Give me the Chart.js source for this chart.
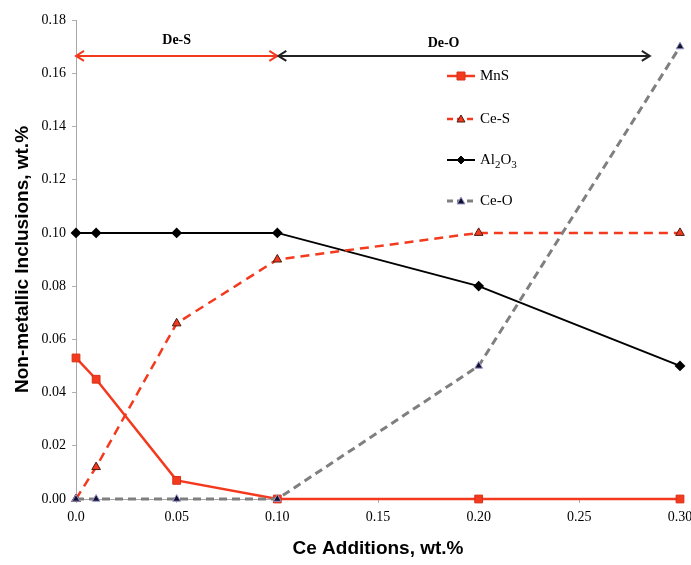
<!DOCTYPE html>
<html>
<head>
<meta charset="utf-8">
<script src="https://cdn.jsdelivr.net/npm/chart.js@4"></script>
<style>
  html, body { margin: 0; padding: 0; background: #fff; }
  #wrap { width: 691px; height: 565px; }
</style>
</head>
<body>
<div id="wrap"><canvas id="inclusionChart" width="691" height="565"></canvas></div>
<script>
// Ce additions (wt.%) on the x axis
const ceAdditions = [0, 0.01, 0.05, 0.10, 0.20, 0.30];
const mnsValues = [0.053, 0.045, 0.007, 0, 0, 0];
const ceSValues = [0, 0.012, 0.066, 0.09, 0.10, 0.10];
const al2o3Values = [0.10, 0.10, 0.10, 0.10, 0.08, 0.05];
const ceOValues = [0, 0, 0, 0, 0.05, 0.17];
const xTickLabels = ['0.0', '0.05', '0.10', '0.15', '0.20', '0.25', '0.30'];

// region arrows at the top of the plot
const deSRange = [0, 0.10];
const deORange = [0.10, 0.285];
const arrowLevel = 0.1665;

const red = '#f43a1e';

function toPoints(vals) {
    return ceAdditions.map((x, i) => ({ x: x, y: vals[i] }));
}

const datasets = [
    {
        label: 'Ce-O', data: toPoints(ceOValues), order: 0,
        borderColor: '#7f7f7f', borderWidth: 3, borderDash: [8, 5],
        pointStyle: 'triangle', pointRadius: 4.5,
        pointBackgroundColor: '#11112e', pointBorderColor: '#9a9ad0', pointBorderWidth: 1
    },
    {
        label: 'MnS', data: toPoints(mnsValues), order: 1,
        borderColor: red, borderWidth: 2.5,
        pointStyle: 'rect', pointRadius: 5.5,
        pointBackgroundColor: red, pointBorderColor: '#d83018', pointBorderWidth: 1
    },
    {
        label: 'Ce-S', data: toPoints(ceSValues), order: 2,
        borderColor: red, borderWidth: 2.5, borderDash: [9, 6],
        pointStyle: 'triangle', pointRadius: 5,
        pointBackgroundColor: red, pointBorderColor: '#4a1a10', pointBorderWidth: 1
    },
    {
        label: 'Al2O3', data: toPoints(al2o3Values), order: 3,
        borderColor: '#000', borderWidth: 2,
        pointStyle: 'rectRot', pointRadius: 4,
        pointBackgroundColor: '#000', pointBorderColor: '#000'
    }
];

// arrows, region labels and a legend with subscripts
const extrasPlugin = {
    id: 'extras',
    afterDatasetsDraw(chart) {
        const ctx = chart.ctx;
        const xs = chart.scales.x, ys = chart.scales.y;
        const yA = ys.getPixelForValue(arrowLevel);

        function arrow(x1, x2, color) {
            ctx.save();
            ctx.strokeStyle = color;
            ctx.lineWidth = 2;
            ctx.beginPath();
            ctx.moveTo(x1, yA); ctx.lineTo(x2, yA);
            ctx.moveTo(x1 + 8, yA - 5); ctx.lineTo(x1, yA); ctx.lineTo(x1 + 8, yA + 5);
            ctx.moveTo(x2 - 8, yA - 5); ctx.lineTo(x2, yA); ctx.lineTo(x2 - 8, yA + 5);
            ctx.stroke();
            ctx.restore();
        }
        const s1 = xs.getPixelForValue(deSRange[0]), s2 = xs.getPixelForValue(deSRange[1]);
        const o1 = xs.getPixelForValue(deORange[0]), o2 = xs.getPixelForValue(deORange[1]);
        arrow(s1, s2, red);
        arrow(o1 + 1, o2, '#222');

        ctx.save();
        ctx.fillStyle = '#000';
        ctx.font = 'bold 14px "Liberation Serif"';
        ctx.textAlign = 'center';
        ctx.textBaseline = 'middle';
        ctx.fillText('De-S', (s1 + s2) / 2, yA - 16);
        ctx.fillText('De-O', (o1 + o2) / 2 - 20, yA - 13);
        ctx.restore();

        // legend
        const lx = 447, rows = [76, 119, 160, 201];
        const order = ['MnS', 'Ce-S', 'Al2O3', 'Ce-O'];
        order.forEach((name, i) => {
            const ds = chart.data.datasets.find(d => d.label === name);
            const y = rows[i];
            ctx.save();
            ctx.strokeStyle = ds.borderColor;
            ctx.lineWidth = ds.borderWidth;
            ctx.setLineDash(ds.borderDash ? [6, 4] : []);
            ctx.beginPath();
            ctx.moveTo(lx, y); ctx.lineTo(lx + 28, y);
            ctx.stroke();
            ctx.setLineDash([]);
            const cx = lx + 14;
            ctx.fillStyle = ds.pointBackgroundColor;
            ctx.strokeStyle = ds.pointBorderColor;
            ctx.lineWidth = 1;
            ctx.beginPath();
            if (ds.pointStyle === 'rect') {
                ctx.rect(cx - 4, y - 4, 8, 8);
            } else if (ds.pointStyle === 'triangle') {
                ctx.moveTo(cx, y - 4); ctx.lineTo(cx + 4, y + 3); ctx.lineTo(cx - 4, y + 3); ctx.closePath();
            } else {
                ctx.moveTo(cx, y - 4); ctx.lineTo(cx + 4, y); ctx.lineTo(cx, y + 4); ctx.lineTo(cx - 4, y); ctx.closePath();
            }
            ctx.fill(); ctx.stroke();

            ctx.fillStyle = '#000';
            ctx.textAlign = 'left';
            ctx.textBaseline = 'middle';
            const tx = lx + 33;
            if (name === 'Al2O3') {
                const big = '15px "Liberation Serif"', small = '11px "Liberation Serif"';
                let x = tx;
                [['Al', big, 0], ['2', small, 5], ['O', big, 0], ['3', small, 5]].forEach(p => {
                    ctx.font = p[1];
                    ctx.fillText(p[0], x, y + p[2]);
                    x += ctx.measureText(p[0]).width;
                });
            } else {
                ctx.font = '15px "Liberation Serif"';
                ctx.fillText(name, tx, y);
            }
            ctx.restore();
        });
    }
};

const tickFont = { family: '"Liberation Serif"', size: 14 };

new Chart(document.getElementById('inclusionChart'), {
    type: 'line',
    data: { datasets: datasets },
    options: {
        responsive: false,
        animation: false,
        clip: false,
        layout: { padding: { top: 20, right: 11, left: 0, bottom: 0 } },
        plugins: {
            legend: { display: false },
            tooltip: { enabled: false }
        },
        scales: {
            x: {
                type: 'linear', min: 0, max: 0.30,
                afterFit: s => { s.height = 66; s.paddingRight = 0; s.paddingLeft = 0; },
                afterBuildTicks: s => {
                    s.ticks = xTickLabels.map(t => ({ value: parseFloat(t) }));
                },
                ticks: {
                    color: '#000', font: tickFont, padding: 6, maxRotation: 0,
                    callback: (v, i) => xTickLabels[i]
                },
                grid: { drawOnChartArea: false, drawTicks: true, tickLength: 4, color: '#b0b0b0' },
                border: { display: true, color: '#a8a8a8', width: 1 },
                title: {
                    display: true, text: 'Ce Additions, wt.%', color: '#000',
                    font: { family: '"Liberation Sans"', size: 19, weight: 'bold' },
                    padding: { top: 0, bottom: 5 }
                }
            },
            y: {
                min: 0, max: 0.18,
                afterFit: s => { s.width = 76; },
                ticks: {
                    stepSize: 0.02, color: '#000', font: tickFont, padding: 6,
                    callback: v => v.toFixed(2)
                },
                grid: { drawOnChartArea: false, drawTicks: true, tickLength: 4, color: '#b0b0b0' },
                border: { display: true, color: '#a8a8a8', width: 1 },
                title: {
                    display: true, text: 'Non-metallic Inclusions, wt.%', color: '#000',
                    font: { family: '"Liberation Sans"', size: 19, weight: 'bold' },
                    padding: { top: 11, bottom: 0 }
                }
            }
        }
    },
    plugins: [extrasPlugin]
});
</script>
</body>
</html>
